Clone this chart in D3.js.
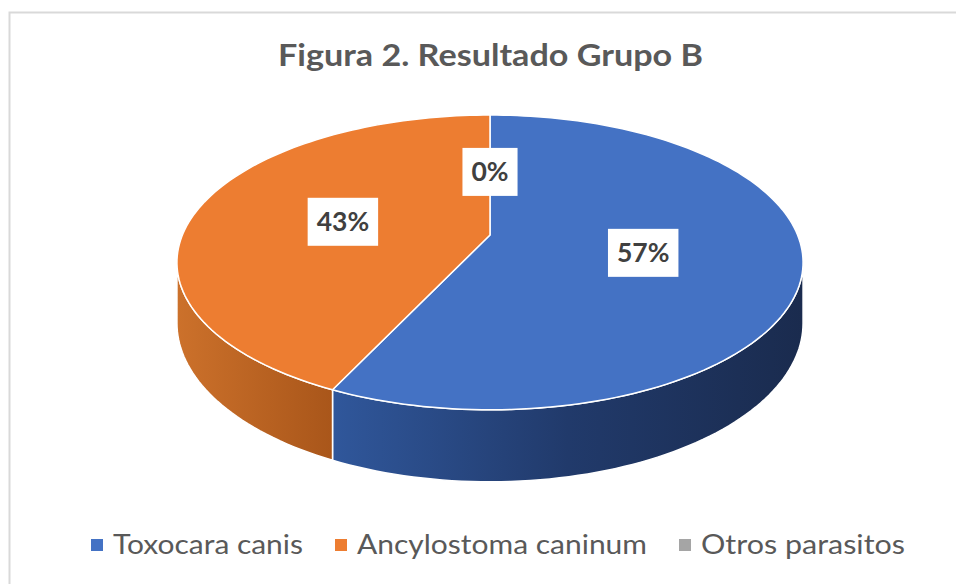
<!DOCTYPE html>
<html>
<head>
<meta charset="utf-8">
<script src="https://cdn.jsdelivr.net/npm/d3@7"></script>
<style>
	html, body { margin: 0; padding: 0; background: #fff; }
	svg { display: block; }
</style>
</head>
<body>
<div id="chart"></div>
<script>
// data
const categories = ["Toxocara canis", "Ancylostoma caninum", "Otros parasitos"];
const values = [57, 43, 0];
const pct_labels = ["57%", "43%", "0%"];
const title_text = "Figura 2. Resultado Grupo B";

const palette = ["#4472c4", "#ed7d31", "#a5a5a5"];
const side_colors = [["#30579b", "#1a2b4e"], ["#cc712b", "#a9561a"], ["#7f7f7f", "#6b6b6b"]];

function chart() {
	let width = 956, height = 584;
	let font = "Lato, 'Open Sans', sans-serif";

	// pie geometry (perspective tilted disc)
	let cx = 490, cy = 235,
		rx = 307.6, ry = 142.3,
		persp = 0.186,
		depth = 58.6;

	let svg = d3.select("#chart")
		.append("svg")
		.attr("width", width)
		.attr("height", height);

	let defs = svg.append("defs");

	// chart area border
	svg.append("rect")
		.attr("x", 9.5).attr("y", 12.5)
		.attr("width", 1200).attr("height", 1200)
		.attr("fill", "#fff")
		.attr("stroke", "#d9d9d9")
		.attr("stroke-width", 2);

	// title
	svg.append("text")
		.attr("x", 490.5).attr("y", 66)
		.attr("text-anchor", "middle")
		.attr("font-family", font)
		.attr("font-weight", "bold")
		.attr("font-size", 31)
		.attr("fill", "#595959")
		.attr("textLength", 425)
		.attr("lengthAdjust", "spacingAndGlyphs")
		.text(title_text);

	let x = d3.scaleLinear().domain([-1, 1]).range([cx - rx, cx + rx]);
	let y = d3.scaleLinear().domain([-1, 1]).range([cy + ry, cy - ry]);

	// angle measured clockwise from 12 o'clock, r in [0,1], down in [0,1]
	function proj(a, r, down) {
		let u = r * Math.sin(a), v = r * Math.cos(a);
		let w = 1 + persp * v;
		return [x(u / w), y(v / w) + down * depth / w];
	}

	function arcPoints(a0, a1, down) {
		let n = Math.max(2, Math.ceil(Math.abs(a1 - a0) / (Math.PI * 2) * 240));
		return d3.range(n + 1).map(function (i) {
			return proj(a0 + (a1 - a0) * i / n, 1, down);
		});
	}

	let line = d3.line();

	let pie = d3.pie().sort(null).value(function (d) { return d; });
	let arcs = pie(values);

	// visible front side between the two silhouette angles
	let sil0 = Math.acos(-persp), sil1 = Math.PI * 2 - sil0;

	let sides = svg.append("g").attr("class", "sides");
	arcs.forEach(function (d, i) {
		let a0 = Math.max(d.startAngle, sil0), a1 = Math.min(d.endAngle, sil1);
		if (a1 <= a0) return;

		let top = arcPoints(a0, a1, 0);
		let bottom = arcPoints(a1, a0, 1);
		let xs = top.concat(bottom).map(function (p) { return p[0]; });

		let grad = defs.append("linearGradient")
			.attr("id", "side" + i)
			.attr("gradientUnits", "userSpaceOnUse")
			.attr("x1", d3.min(xs)).attr("x2", d3.max(xs))
			.attr("y1", 0).attr("y2", 0);
		grad.append("stop").attr("offset", 0).attr("stop-color", side_colors[i][0]);
		if (i === 0) grad.append("stop").attr("offset", 0.5).attr("stop-color", "#213a6b");
		grad.append("stop").attr("offset", 1).attr("stop-color", side_colors[i][1]);

		sides.append("path")
			.attr("d", line(top.concat(bottom)) + "Z")
			.attr("fill", "url(#side" + i + ")")
			.attr("stroke", "#fff")
			.attr("stroke-width", 1.5)
			.attr("stroke-linejoin", "round");
	});

	let tops = svg.append("g").attr("class", "tops");
	arcs.forEach(function (d, i) {
		if (d.endAngle - d.startAngle <= 0) return;
		let pts = [proj(0, 0, 0)].concat(arcPoints(d.startAngle, d.endAngle, 0));
		tops.append("path")
			.attr("d", line(pts) + "Z")
			.attr("fill", palette[i])
			.attr("stroke", "#fff")
			.attr("stroke-width", 1.5)
			.attr("stroke-linejoin", "round");
	});

	// data labels
	let labels = svg.append("g").attr("class", "labels");
	arcs.forEach(function (d, i) {
		let mid = (d.startAngle + d.endAngle) / 2;
		let p = proj(mid, 0.5, 0);
		let g = labels.append("g").attr("transform", "translate(" + p[0] + "," + (p[1] + 2) + ")");
		let box = g.append("rect").attr("fill", "#fff");
		let t = g.append("text")
			.attr("text-anchor", "middle")
			.attr("y", 9.5)
			.attr("font-family", font)
			.attr("font-weight", "bold")
			.attr("font-size", 26.5)
			.attr("fill", "#404040")
			.text(pct_labels[i]);
		let tw = t.node().getComputedTextLength();
		box.attr("x", -tw / 2 - 9).attr("y", -24)
			.attr("width", tw + 18).attr("height", 48);
	});

	// legend
	let legend_widths = [190, 290, 204];
	let legend = svg.append("g").attr("class", "legend");
	let lx = 91;
	categories.forEach(function (c, i) {
		legend.append("rect")
			.attr("x", lx).attr("y", 539)
			.attr("width", 12).attr("height", 12)
			.attr("fill", palette[i]);
		legend.append("text")
			.attr("x", lx + 22).attr("y", 554)
			.attr("font-family", font)
			.attr("font-size", 27)
			.attr("fill", "#595959")
			.attr("textLength", legend_widths[i])
			.attr("lengthAdjust", "spacingAndGlyphs")
			.text(c);
		lx += 22 + legend_widths[i] + 32;
	});
}

chart();
</script>
</body>
</html>
